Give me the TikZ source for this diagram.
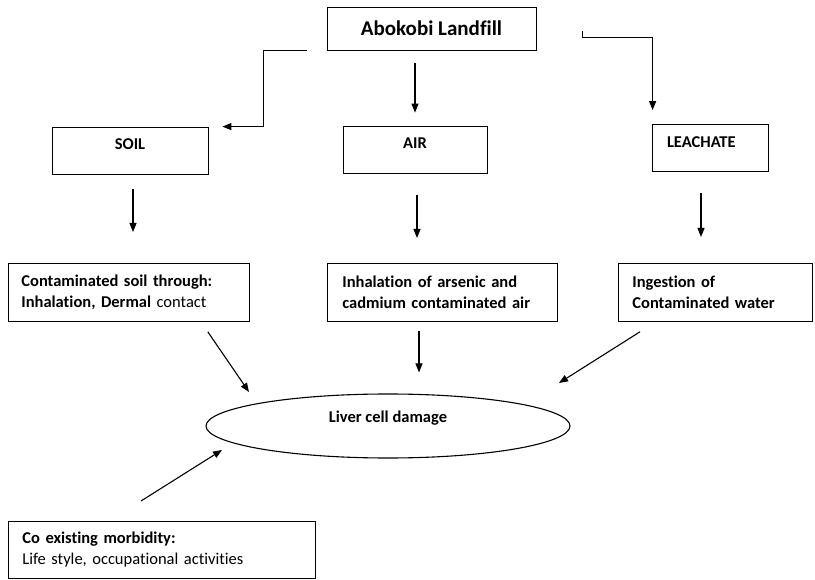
\documentclass[tikz,border=0pt]{standalone}
\usepackage{fontspec}
\setmainfont{Carlito}[Ligatures=CommonOff]
\usepackage{tikz}
\usetikzlibrary{arrows.meta,shapes.geometric}

\begin{document}
\begin{tikzpicture}[x=1pt, y=-1pt, >={Triangle[length=9pt,width=7pt]},
    box/.style={draw, line width=0.8pt, inner sep=0pt, font=\fontsize{16.5}{21}\selectfont\bfseries},
    head/.style={box, minimum height=47pt, text height=11pt, text depth=12pt},
    route/.style={box, anchor=north west, minimum height=58pt, align=left},
    arr/.style={->, line width=1.1pt}]
      \useasboundingbox (0, 0) rectangle (815, 580);
      \node[box, minimum width=209pt, minimum height=43pt, font=\fontsize{21}{24}\selectfont\bfseries] (landfill) at (431.5, 28.5) {Abokobi Landfill};
      \node[head, minimum width=156pt] (soil) at (130, 150.5) {SOIL};
      \node[head, minimum width=144pt] (air) at (415, 149.5) {AIR};
      \node[head, minimum width=116pt, text width=86pt, align=left] (leachate) at (710, 148) {LEACHATE};
      \node[route, minimum width=241pt, text width=215pt] (soilpath) at (8, 263) {Contaminated soil through:\\Inhalation, Dermal \mdseries contact};
      \node[route, minimum width=230pt, text width=200pt] (airpath) at (327, 263) {Inhalation of arsenic and\\cadmium contaminated air};
      \node[route, minimum width=194pt, text width=166pt] (leachpath) at (618, 263) {Ingestion of\\Contaminated water};
      \node[box, ellipse, line width=1.1pt, minimum width=364pt, minimum height=64pt, text height=12pt, text depth=18pt] (liver) at (388, 426) {Liver cell damage};
      \node[route, minimum width=307pt, minimum height=57pt, text width=279pt] (morbid) at (8, 521) {Co existing morbidity:\\\mdseries Life style, occupational activities};
      \draw[arr] ([xshift=-20pt]landfill.south west) -| ([xshift=55pt]soil.north east) -- ([xshift=14pt]soil.north east);
      \draw[arr, shorten <=13pt, shorten >=13pt] (landfill.south -| air.north) -- (air.north);
      \draw[arr] ([shift={(46pt,-3pt)}]landfill.east) -- ++(0, 6) -| ([shift={(1pt,14pt)}]leachate.north west);
      \draw[arr, shorten <=15pt, shorten >=31pt] ([xshift=3pt]soil.south) -- ([xshift=3pt]soil.south |- soilpath.north);
      \draw[arr, shorten <=22pt, shorten >=25pt] ([xshift=2pt]air.south) -- ([xshift=2pt]air.south |- airpath.north);
      \draw[arr, shorten <=21pt, shorten >=26pt] ([xshift=-9pt]leachate.south) -- ([xshift=-9pt]leachate.south |- leachpath.north);
      \draw[arr] ([shift={(-42pt,-10pt)}]soilpath.south east) -- ([shift={(-139pt,34pt)}]liver.center);
      \draw[arr, shorten <=9pt, shorten >=21pt] ([xshift=4pt]air.south |- airpath.south) -- ([xshift=4pt]air.south |- liver.north);
      \draw[arr] ([shift={(22pt,-10pt)}]leachpath.south west) -- ([shift={(171pt,43pt)}]liver.center);
      \draw[arr] ([shift={(133pt,20pt)}]morbid.north west) -- ([shift={(-166pt,-24pt)}]liver.center);
    \end{tikzpicture}
\end{document}
